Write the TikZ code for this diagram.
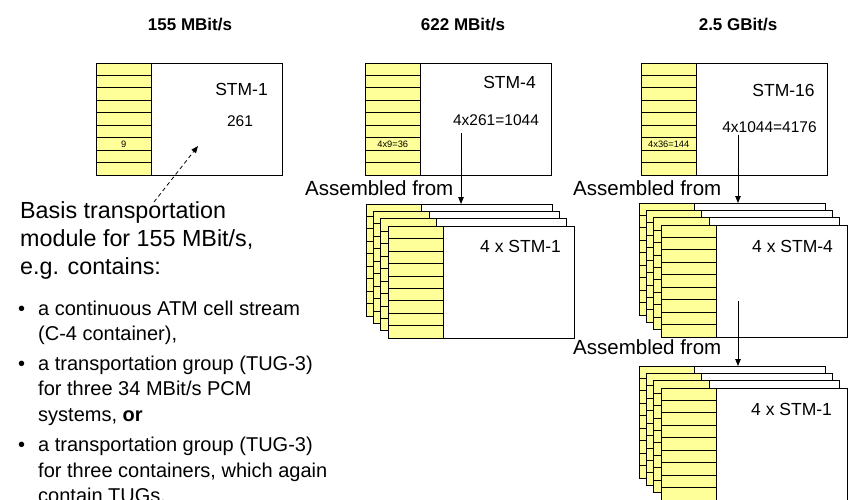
\documentclass[tikz,border=0pt]{standalone}
\usepackage{fontspec}
\setmainfont{Liberation Sans}
\usetikzlibrary{arrows.meta}
\definecolor{stmyellow}{HTML}{FFFF99}
\begin{document}
\begin{tikzpicture}[x=1pt,y=-1pt,
  boxst/.style={draw=black, line width=0.8pt, fill=white, minimum width=186pt, minimum height=112pt, inner sep=0pt, outer sep=0pt, anchor=north west},
  colst/.style={draw=black, line width=0.8pt, fill=stmyellow, minimum width=55.5pt, minimum height=112pt, inner sep=0pt, outer sep=0pt, anchor=north west},
  rowline/.style={line width=0.8pt, draw=black},
  hdr/.style={font=\fontsize{17}{20}\selectfont\bfseries, inner sep=0pt, anchor=base},
  stmlbl/.style={font=\fontsize{17.5}{20}\selectfont, inner sep=0pt, anchor=base},
  numlbl/.style={font=\fontsize{15.5}{18}\selectfont, inner sep=0pt, anchor=base},
  tinylbl/.style={font=\fontsize{9.3}{11}\selectfont, inner sep=0pt},
  asm/.style={font=\fontsize{20.5}{24}\selectfont, inner sep=0pt, anchor=base west},
  desctxt/.style={font=\fontsize{23.3}{28}\selectfont, inner sep=0pt, anchor=base west},
  bultxt/.style={font=\fontsize{20}{24}\selectfont, inner sep=0pt, anchor=base west},
  arr/.style={line width=0.8pt, -{Triangle[length=7pt,width=5.5pt]}},
  stm/.pic={
    \node[boxst] (-frame) at (0,0) {};
    \node[colst] (-col) at (0,0) {};
    \foreach \i in {1,...,8} \draw[rowline] (0,\i*12.444) -- (55.5,\i*12.444);
  }
]
\useasboundingbox (0,0) rectangle (854,500);

% headers
\node[hdr] (h1) at (190,31) {155 MBit/s};
\node[hdr] (h2) at (463,31) {622 MBit/s};
\node[hdr] (h3) at (738,31) {2.5 GBit/s};

% top boxes
\pic (s1) at (96,63) {stm};
\pic (s4) at (365,63) {stm};
\pic (s16) at (641,63) {stm};

\node[stmlbl] (l1) at (241.5,96) {STM-1};
\node[numlbl] (n1) at (240,127) {261};
\node[tinylbl] (t1) at (123.75,144) {9};

\node[stmlbl] (l4) at (509.5,89) {STM-4};
\node[numlbl] (n4) at (496,126) {4x261=1044};
\node[tinylbl] (t4) at (392.75,144) {4x9=36};

\node[stmlbl] (l16) at (783.5,97) {STM-16};
\node[numlbl] (n16) at (769.5,132) {4x1044=4176};
\node[tinylbl] (t16) at (668.75,144) {4x36=144};

% stack under STM-4
\pic (m1) at (366,204) {stm};
\pic (m2) at (373.4,211.4) {stm};
\pic (m3) at (380.8,218.8) {stm};
\pic (m4) at (388.2,226.2) {stm};
\node[stmlbl, anchor=base west] (lm) at (480,252) {4 x STM-1};

% first stack under STM-16
\pic (p1) at (639,203) {stm};
\pic (p2) at (646.3,210.3) {stm};
\pic (p3) at (653.6,217.6) {stm};
\pic (p4) at (661,225) {stm};
\node[stmlbl, anchor=base west] (lp) at (752,252) {4 x STM-4};

% second stack under STM-16
\pic (q1) at (639,366) {stm};
\pic (q2) at (646.3,373.3) {stm};
\pic (q3) at (653.6,380.6) {stm};
\pic (q4) at (661,388) {stm};
\node[stmlbl, anchor=base west] (lq) at (751,415) {4 x STM-1};

% assembled labels
\node[asm] (as1) at (305,195) {Assembled from};
\node[asm] (as2) at (573,195) {Assembled from};
\node[asm] (as3) at (573,354) {Assembled from};

% arrows
\coordinate (a1) at (461,133);
\draw[arr] (a1) -- (a1 |- m1-frame.north);
\coordinate (a2) at (738,135);
\draw[arr] (a2) -- (a2 |- p1-frame.north);
\coordinate (a3) at (738,301);
\draw[arr] (a3) -- (a3 |- q1-frame.north);

% description
\node[desctxt] (d1) at (20,218) {Basis transportation};
\node[desctxt] (d2) at (20,246) {module for 155 MBit/s,};
\node[desctxt] (d3) at (20,274) {e.g. contains:};

\coordinate (ds) at (154,202);
\coordinate (de) at (198,146);
\draw[line width=0.8pt, dash pattern=on 4pt off 3pt, -{Triangle[length=7pt,width=5.5pt]}] (ds) -- (de);

% bullets
\node[bultxt] (bu1) at (18,315) {•};
\node[bultxt] (b1a) at (38,315) {a continuous ATM cell stream};
\node[bultxt] (b1b) at (38,340.5) {(C-4 container),};
\node[bultxt] (bu2) at (18,370) {•};
\node[bultxt] (b2a) at (38,370) {a transportation group (TUG-3)};
\node[bultxt] (b2b) at (38,395.5) {for three 34 MBit/s PCM};
\node[bultxt] (b2c) at (38,421) {systems, \textbf{or}};
\node[bultxt] (bu3) at (18,451) {•};
\node[bultxt] (b3a) at (38,451) {a transportation group (TUG-3)};
\node[bultxt] (b3b) at (38,477) {for three containers, which again};
\node[bultxt] (b3c) at (38,502.5) {contain TUGs.};
\end{tikzpicture}
\end{document}
